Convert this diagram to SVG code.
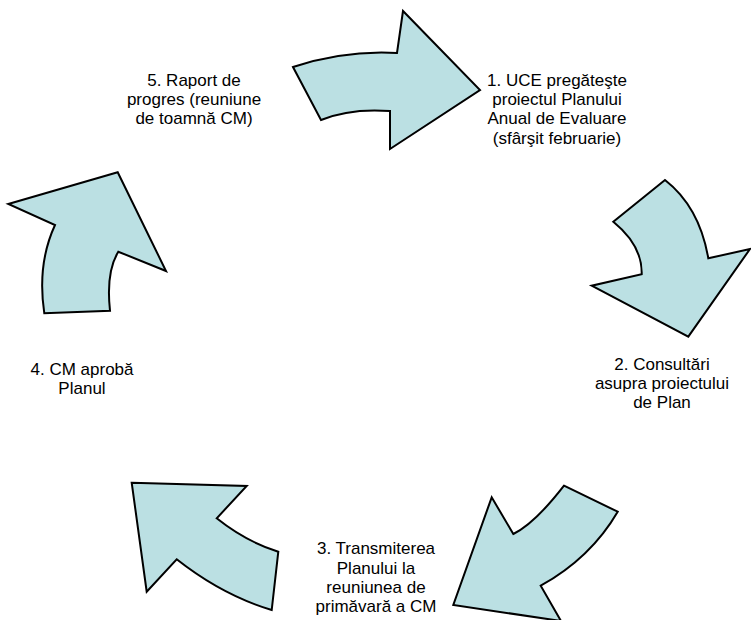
<svg xmlns="http://www.w3.org/2000/svg" width="751" height="620" viewBox="0 0 751 620">
<style>
.arrow{fill:#BBE0E3;stroke:#000;stroke-width:2;stroke-linejoin:miter}
.lbl{font-family:"Liberation Sans",Arial,sans-serif;font-size:17px;fill:#000;text-anchor:middle}
</style>
<rect width="751" height="620" fill="#fff"/>
<g id="connectors">
<path id="arrow1" class="arrow" d="M293,67 Q345,50 397,53 L403,11 L480,90 L390,149 L390,111 Q350,108 321,120 Z"/>
<path id="arrow2" class="arrow" d="M665,180 Q699.5,207 708.3,258.3 L750,249 L688.3,336.7 L591.7,285.7 L641.7,274.3 Q642.5,245.4 613.3,221.7 Z"/>
<path id="arrow3" class="arrow" d="M564,485.7 L617.7,511.7 Q590.8,557.9 540.7,585.7 L561,621 L453.3,605 L491.7,497.3 L513.3,534 Q534.7,523.5 564,485.7 Z"/>
<path id="arrow4" class="arrow" d="M131.7,482.7 L246.7,486 L216.7,518.3 Q245.9,541.6 278.3,551.7 L271.7,610 Q222.4,595.3 176.7,559.3 L146.7,591.7 Z"/>
<path id="arrow5" class="arrow" d="M117.7,172.3 L166,271 L118.3,251.7 Q105.8,272.2 110,310.7 L44.3,313.3 Q36.9,264.2 55,225 L8.3,204 Z"/>
</g>
<g id="node1">
<text class="lbl" x="557" y="85.7">1. UCE pregăteşte</text>
<text class="lbl" x="557" y="105">proiectul Planului</text>
<text class="lbl" x="557" y="124.3">Anual de Evaluare</text>
<text class="lbl" x="557" y="143.5">(sfârşit februarie)</text>
</g>
<g id="node2">
<text class="lbl" x="662" y="369.5">2. Consultări</text>
<text class="lbl" x="662" y="388.7">asupra proiectului</text>
<text class="lbl" x="662" y="408">de Plan</text>
</g>
<g id="node3">
<text class="lbl" x="376" y="554.3">3. Transmiterea</text>
<text class="lbl" x="376" y="573.5">Planului la</text>
<text class="lbl" x="376" y="592.7">reuniunea de</text>
<text class="lbl" x="376" y="611.7">primăvară a CM</text>
</g>
<g id="node4">
<text class="lbl" x="82" y="375">4. CM aprobă</text>
<text class="lbl" x="82" y="394">Planul</text>
</g>
<g id="node5">
<text class="lbl" x="194" y="86">5. Raport de</text>
<text class="lbl" x="194" y="105">progres (reuniune</text>
<text class="lbl" x="194" y="124">de toamnă CM)</text>
</g>
</svg>
